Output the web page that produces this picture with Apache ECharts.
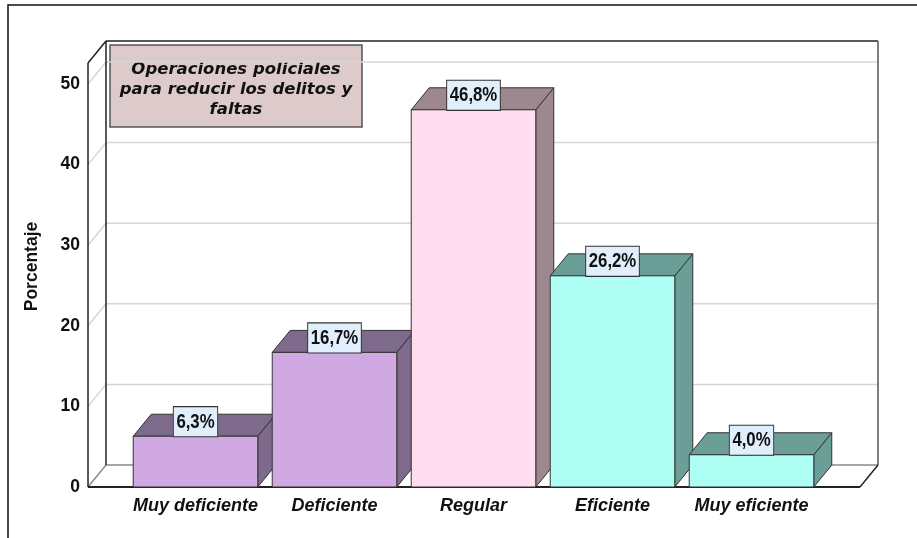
<!DOCTYPE html>
<html>
<head>
<meta charset="utf-8">
<script src="https://cdn.jsdelivr.net/npm/echarts@6/dist/echarts.min.js"></script>
<style>html,body{margin:0;padding:0;background:#fff;}#c{width:917px;height:538px;}</style>
</head>
<body>
<div id="c"></div>
<script>
const categories = ['Muy deficiente', 'Deficiente', 'Regular', 'Eficiente', 'Muy eficiente'];
const percentages = [6.3, 16.7, 46.8, 26.2, 4.0];
const valueLabels = ['6,3%', '16,7%', '46,8%', '26,2%', '4,0%'];
const yTicks = [0, 10, 20, 30, 40, 50];
const frontColors = ['#D0A8E2', '#D0A8E2', '#FFDDEE', '#AEFEF4', '#AEFEF4'];
const sideColors = ['#7E6A8A', '#7E6A8A', '#9E8890', '#6A9E97', '#6A9E97'];
const titleLines = ['Operaciones policiales', 'para reducir los delitos y', 'faltas'];
const axisTitle = 'Porcentaje';

const DX = 18, DY = -22;       // depth offset of the 3D box
const WALL_TOP = 52.6;         // top of the walls, in axis units
const SIDE_PAD_L = 38, SIDE_PAD_R = 39; // floor margin beyond category band

const chart = echarts.init(document.getElementById('c'), null, {renderer: 'canvas'});

function frameItem(params, api) {
  const cs = params.coordSys;
  const L = cs.x - SIDE_PAD_L, R = cs.x + cs.width + SIDE_PAD_R;
  const y0 = api.coord([0, 0])[1];
  const yT = api.coord([0, WALL_TOP])[1];
  const children = [];
  const line = (x1, y1, x2, y2, c, w) => children.push({
    type: 'line', shape: {x1, y1, x2, y2}, style: {stroke: c, lineWidth: w}, silent: true
  });
  yTicks.forEach(v => {
    if (v === 0) return;
    const y = api.coord([0, v])[1];
    line(L + DX, y + DY, R + DX, y + DY, '#d6d6d6', 1.5);
    line(L, y, L + DX, y + DY, '#d6d6d6', 1.5);
  });
  // floor
  line(L + DX, y0 + DY, R + DX, y0 + DY, '#8a8a8a', 1.5);
  line(L, y0, L + DX, y0 + DY, '#8a8a8a', 1.5);
  line(R, y0, R + DX, y0 + DY, '#222', 1.5);
  line(L, y0, R, y0, '#222', 2);
  // back wall
  line(L + DX, yT + DY, L + DX, y0 + DY, '#222', 1.5);
  line(L + DX, yT + DY, R + DX, yT + DY, '#222', 1.5);
  line(R + DX, yT + DY, R + DX, y0 + DY, '#555', 1.5);
  // left wall
  line(L, yT, L, y0, '#222', 1.5);
  line(L, yT, L + DX, yT + DY, '#222', 1.5);
  return {type: 'group', children};
}

function barItem(params, api) {
  const i = params.dataIndex;
  const v = api.value(1);
  const top = api.coord([api.value(0), v]);
  const base = api.coord([api.value(0), 0]);
  const bw = api.size([1, 0])[0] * 0.896;
  const x0 = top[0] - bw / 2, x1 = top[0] + bw / 2, yT = top[1], yB = base[1];
  const stroke = '#333';
  return {
    type: 'group',
    children: [
      {type: 'polygon', shape: {points: [[x1, yB], [x1 + DX, yB + DY], [x1 + DX, yT + DY], [x1, yT]]},
        style: {fill: sideColors[i], stroke, lineWidth: 1}},
      {type: 'polygon', shape: {points: [[x0, yT], [x0 + DX, yT + DY], [x1 + DX, yT + DY], [x1, yT]]},
        style: {fill: sideColors[i], stroke, lineWidth: 1}},
      {type: 'rect', shape: {x: x0, y: yT, width: bw, height: yB - yT},
        style: {fill: frontColors[i], stroke, lineWidth: 1}},
      {type: 'text', z2: 100, x: top[0], y: yT, scaleX: 0.86, scaleY: 1, style: {
        text: valueLabels[i], x: 0, y: 0, align: 'center', verticalAlign: 'bottom',
        font: 'bold 19.5px "Liberation Sans", Arial, sans-serif',
        fill: '#111', backgroundColor: '#E1EEFB', borderColor: '#333', borderWidth: 1.1,
        padding: [5, 3, 4, 3], lineHeight: 20
      }}
    ]
  };
}

chart.setOption({
  animation: false,
  backgroundColor: '#fff',
  grid: {left: 126, right: 96, top: 84, bottom: 51},
  xAxis: {
    type: 'category', data: categories,
    axisLine: {show: false}, axisTick: {show: false}, splitLine: {show: false},
    axisLabel: {interval: 0, margin: 10, color: '#111', fontSize: 18, fontWeight: 'bold', fontStyle: 'italic',
      fontFamily: '"Liberation Sans", Arial, sans-serif'}
  },
  yAxis: {
    type: 'value', min: 0, max: 50, interval: 10,
    axisLine: {show: false}, axisTick: {show: false}, splitLine: {show: false},
    axisLabel: {margin: 46, color: '#111', fontSize: 17.5, fontWeight: 'bold',
      fontFamily: '"Liberation Sans", Arial, sans-serif',
      padding: [6, 0, 0, 0]},
    name: axisTitle, nameLocation: 'middle', nameRotate: 90, nameGap: 85,
    nameTextStyle: {color: '#111', fontSize: 17.5, fontWeight: 'bold',
      fontFamily: '"Liberation Sans", Arial, sans-serif', padding: [0, 0, 0, 38]}
  },
  graphic: [
    {type: 'rect', shape: {x: 8, y: 5, width: 1000, height: 1000},
      style: {fill: 'none', stroke: '#111', lineWidth: 1.5}, silent: true, z: -10},
    {type: 'group', z: 10, children: [
      {type: 'rect', shape: {x: 110, y: 45, width: 252, height: 82},
        style: {fill: '#DDCBCB', stroke: '#555', lineWidth: 1.5}},
      {type: 'text', style: {text: titleLines.join('\n'), x: 236, y: 90, align: 'center', verticalAlign: 'middle',
        font: 'italic bold 16.5px "DejaVu Sans", Verdana, sans-serif', lineHeight: 20, fill: '#111'}}
    ]}
  ],
  series: [
    {type: 'custom', renderItem: frameItem, data: [[0, 0]], z: 1, silent: true},
    {type: 'custom', renderItem: barItem, data: percentages.map((p, i) => [i, p]), z: 2,
      encode: {x: 0, y: 1}}
  ]
});
</script>
</body>
</html>
